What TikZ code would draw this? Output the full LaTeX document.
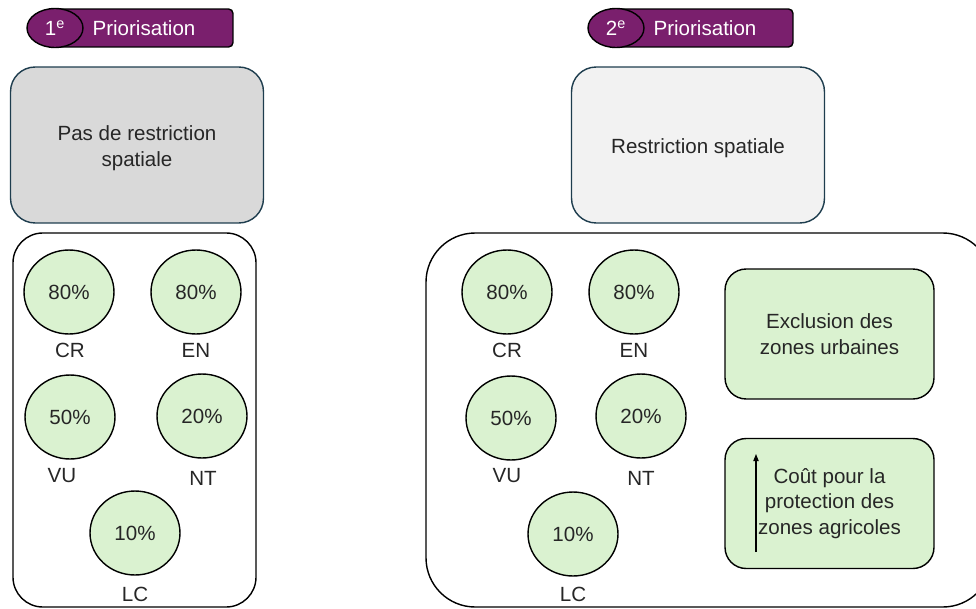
\documentclass[tikz,border=0pt]{standalone}
\usepackage{fontspec}
\setmainfont{Liberation Sans}
\usetikzlibrary{
    arrows.meta,
    shapes.geometric
}

\definecolor{prio}{RGB}{122,31,109}
\definecolor{leaf}{RGB}{218,242,208}
\definecolor{edgeblue}{RGB}{30,61,78}
\definecolor{greyA}{RGB}{217,217,217}
\definecolor{greyB}{RGB}{242,242,242}

\tikzset{
    txt/.style={font=\fontsize{11.7}{14.7}\selectfont, align=center, text=black!85},
    badge/.style={draw=black, fill=prio, line width=0.8pt, rounded corners=2.5pt,
        minimum width=3.66cm, minimum height=0.76cm, inner sep=0pt},
    rank/.style={ellipse, draw=black, fill=prio, line width=0.8pt, inner sep=0pt,
        minimum width=1.12cm, minimum height=0.78cm, txt, text=white},
    ranktxt/.style={txt, text=white},
    topbox/.style={draw=edgeblue, line width=0.8pt, rounded corners=14pt,
        minimum width=5.06cm, minimum height=3.12cm},
    pct/.style={ellipse, draw=black, fill=leaf, line width=0.8pt, inner sep=0pt,
        minimum width=1.8cm, minimum height=1.68cm, txt},
    greenbox/.style={draw=black, fill=leaf, line width=0.8pt, rounded corners=12pt,
        minimum width=4.18cm, minimum height=2.6cm, txt},
    lab/.style={txt}
}

\begin{document}
\begin{tikzpicture}[x=0.02cm, y=-0.02cm]

\useasboundingbox (0,0) rectangle (976,608);
\clip (0,0) rectangle (976,608);

% Priorisation badges
\node[badge] (barA) at (141.5,28) {};
\node[rank] (rankA) at (55,28) {1\textsuperscript{e}};
\node[ranktxt] (prioA) at (144,28) {Priorisation};

\node[badge] (barB) at (701.5,28) {};
\node[rank] (rankB) at (616,28) {2\textsuperscript{e}};
\node[ranktxt] (prioB) at (705,28) {Priorisation};

% Spatial restriction boxes
\node[topbox, fill=greyA] (free) at (137,145) {};
\node[txt] (freetxt) at (137,148) {Pas de restriction\\spatiale};
\node[topbox, fill=greyB] (restr) at (698,145) {};
\node[txt] (restrtxt) at (698,148) {Restriction spatiale};

% Containers
\draw[line width=0.8pt, rounded corners=17pt] (13,233) rectangle (256,607);
\draw[line width=0.8pt, rounded corners=28pt] (426,233) rectangle (992,607);

% Targets per category, first scenario
\foreach \name/\x/\y/\val/\lx/\ly/\cat in {
    crA/69/292/80/70/350/CR,
    enA/196/292/80/196/350/EN,
    vuA/70/417/50/62/476/VU,
    ntA/202/416/20/203/478/NT,
    lcA/135/533/10/135/594/LC}
{
\node[pct] (\name) at (\x,\y) {\val\%};
\node[lab] (\name-lab) at (\lx,\ly) {\cat};
}

% Targets per category, second scenario
\foreach \name/\x/\y/\val/\lx/\ly/\cat in {
    crB/507/292/80/507/350/CR,
    enB/634/292/80/634/350/EN,
    vuB/511/418/50/507/476/VU,
    ntB/641/416/20/641/478/NT,
    lcB/573/534/10/573/594/LC}
{
\node[pct] (\name) at (\x,\y) {\val\%};
\node[lab] (\name-lab) at (\lx,\ly) {\cat};
}

% Constraints
\node[greenbox] (urban) at (829.5,334) {Exclusion des\\zones urbaines};
\node[greenbox] (cost) at (829.5,503.5) {Co\^ut pour la\\protection des\\zones agricoles};

\coordinate (costlo) at (756,552);
\coordinate (costhi) at (756,454);
\draw[line width=0.6pt, -{Triangle[length=4pt, width=3pt]}] (costlo) -- (costhi);

\end{tikzpicture}
\end{document}
